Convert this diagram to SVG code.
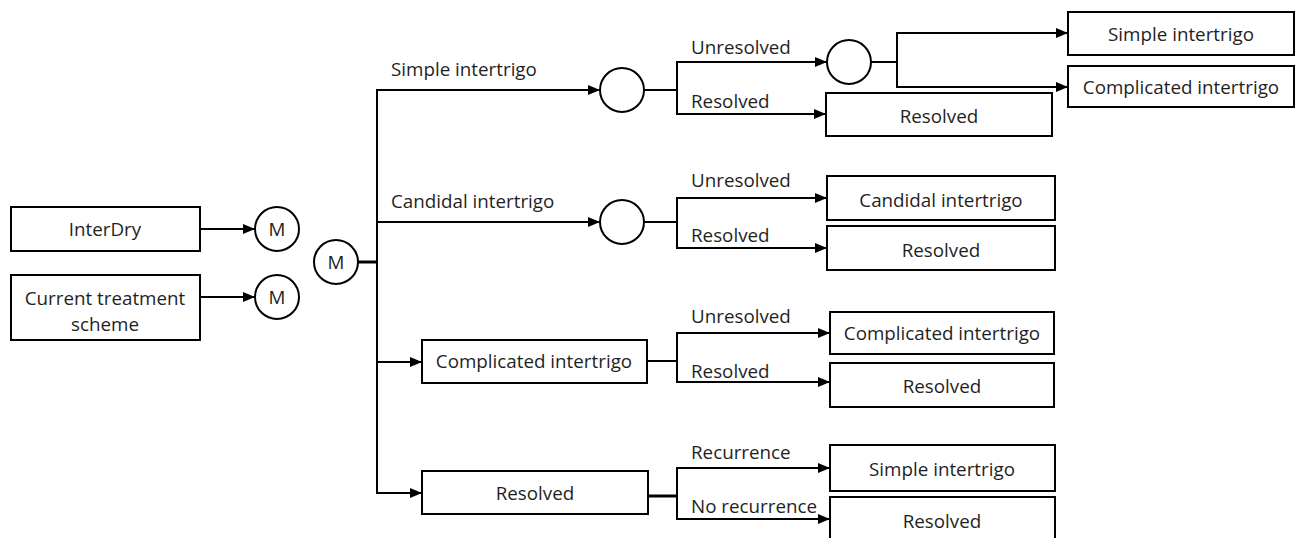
<svg xmlns="http://www.w3.org/2000/svg" width="1295" height="538" viewBox="0 0 1295 538">
<style>
.box{fill:#fff;stroke:#000;stroke-width:2}
.node{fill:#fff;stroke:#000;stroke-width:2}
.t{font-family:"Open Sans","Noto Sans",sans-serif;font-size:18.8px;fill:#1f1f1f}
.c{text-anchor:middle}
.ln{fill:none;stroke:#000;stroke-width:2}
.ar{fill:none;stroke:#000;stroke-width:2;marker-end:url(#ah)}
</style>
<defs>
<marker id="ah" markerUnits="userSpaceOnUse" markerWidth="12" markerHeight="12" viewBox="0 0 12 12" refX="12" refY="6" orient="auto">
<path d="M0,1 L12,6 L0,11 Z" fill="#000"/>
</marker>
</defs>
<rect width="1295" height="538" fill="#fff"/>
<g id="connectors">
<line class="ar" x1="200" y1="229" x2="255" y2="229"/>
<line class="ar" x1="200" y1="297" x2="255" y2="297"/>
<line x1="358" y1="262" x2="377" y2="262" stroke="#000" stroke-width="3"/>
<line class="ln" x1="377" y1="89" x2="377" y2="494"/>
<line class="ar" x1="376" y1="90" x2="600" y2="90"/>
<line class="ar" x1="377" y1="222" x2="600" y2="222"/>
<line class="ar" x1="377" y1="362" x2="422" y2="362"/>
<line class="ar" x1="376" y1="493" x2="422" y2="493"/>
<line class="ln" x1="644" y1="90" x2="677" y2="90"/>
<line class="ln" x1="677" y1="61" x2="677" y2="115"/>
<line class="ar" x1="676" y1="62" x2="827" y2="62"/>
<line class="ar" x1="676" y1="114" x2="826" y2="114"/>
<line class="ln" x1="871" y1="62" x2="897" y2="62"/>
<line class="ln" x1="897" y1="32" x2="897" y2="88"/>
<line class="ar" x1="896" y1="33" x2="1068" y2="33"/>
<line class="ar" x1="896" y1="87" x2="1068" y2="87"/>
<line class="ln" x1="644" y1="222" x2="677" y2="222"/>
<line class="ln" x1="677" y1="197" x2="677" y2="249"/>
<line class="ar" x1="676" y1="198" x2="827" y2="198"/>
<line class="ar" x1="676" y1="248" x2="827" y2="248"/>
<line class="ln" x1="647" y1="361" x2="677" y2="361"/>
<line class="ln" x1="677" y1="332" x2="677" y2="383"/>
<line class="ar" x1="676" y1="333" x2="830" y2="333"/>
<line class="ar" x1="676" y1="382" x2="830" y2="382"/>
<line x1="648" y1="496" x2="677" y2="496" stroke="#000" stroke-width="3"/>
<line class="ln" x1="677" y1="467" x2="677" y2="520"/>
<line class="ar" x1="676" y1="468" x2="830" y2="468"/>
<line class="ar" x1="676" y1="519" x2="830" y2="519"/>
</g>
<g id="edge-labels">
<text class="t" x="391" y="76">Simple intertrigo</text>
<text class="t" x="391" y="208">Candidal intertrigo</text>
<text class="t" x="691" y="54">Unresolved</text>
<text class="t" x="691" y="108">Resolved</text>
<text class="t" x="691" y="187">Unresolved</text>
<text class="t" x="691" y="242">Resolved</text>
<text class="t" x="691" y="323">Unresolved</text>
<text class="t" x="691" y="378">Resolved</text>
<text class="t" x="691" y="459">Recurrence</text>
<text class="t" x="691" y="513">No recurrence</text>
</g>
<g id="interdry"><rect class="box" x="11" y="207" width="189" height="44"/><text class="t c" x="105" y="236">InterDry</text></g>
<g id="current"><rect class="box" x="11" y="275" width="189" height="65"/><text class="t c" x="105" y="305">Current treatment</text><text class="t c" x="105" y="331">scheme</text></g>
<g id="m1"><circle class="node" cx="277" cy="229" r="22"/><text class="t c" x="277" y="236">M</text></g>
<g id="m2"><circle class="node" cx="277" cy="297" r="22"/><text class="t c" x="277" y="304">M</text></g>
<g id="m0"><circle class="node" cx="336" cy="262" r="22"/><text class="t c" x="336" y="269">M</text></g>
<g id="chance-simple"><circle class="node" cx="622" cy="90" r="22"/></g>
<g id="chance-candidal"><circle class="node" cx="622" cy="222" r="22"/></g>
<g id="chance-unresolved"><circle class="node" cx="849" cy="62" r="22"/></g>
<g id="complicated-mid"><rect class="box" x="422" y="340" width="225" height="43"/><text class="t c" x="534" y="368">Complicated intertrigo</text></g>
<g id="resolved-mid"><rect class="box" x="422" y="471" width="226" height="43"/><text class="t c" x="535" y="500">Resolved</text></g>
<g id="simple-top"><rect class="box" x="1068" y="12" width="226" height="43"/><text class="t c" x="1181" y="41">Simple intertrigo</text></g>
<g id="complicated-top"><rect class="box" x="1068" y="66" width="226" height="41"/><text class="t c" x="1181" y="94">Complicated intertrigo</text></g>
<g id="resolved-1"><rect class="box" x="826" y="93" width="226" height="43"/><text class="t c" x="939" y="123">Resolved</text></g>
<g id="candidal-out"><rect class="box" x="827" y="176" width="228" height="44"/><text class="t c" x="941" y="207">Candidal intertrigo</text></g>
<g id="resolved-2"><rect class="box" x="827" y="226" width="228" height="44"/><text class="t c" x="941" y="257">Resolved</text></g>
<g id="complicated-out"><rect class="box" x="830" y="312" width="224" height="42"/><text class="t c" x="942" y="340">Complicated intertrigo</text></g>
<g id="resolved-3"><rect class="box" x="830" y="363" width="224" height="44"/><text class="t c" x="942" y="393">Resolved</text></g>
<g id="simple-out"><rect class="box" x="830" y="445" width="225" height="46"/><text class="t c" x="942" y="476">Simple intertrigo</text></g>
<g id="resolved-4"><rect class="box" x="830" y="497" width="225" height="50"/><text class="t c" x="942" y="528">Resolved</text></g>
</svg>
